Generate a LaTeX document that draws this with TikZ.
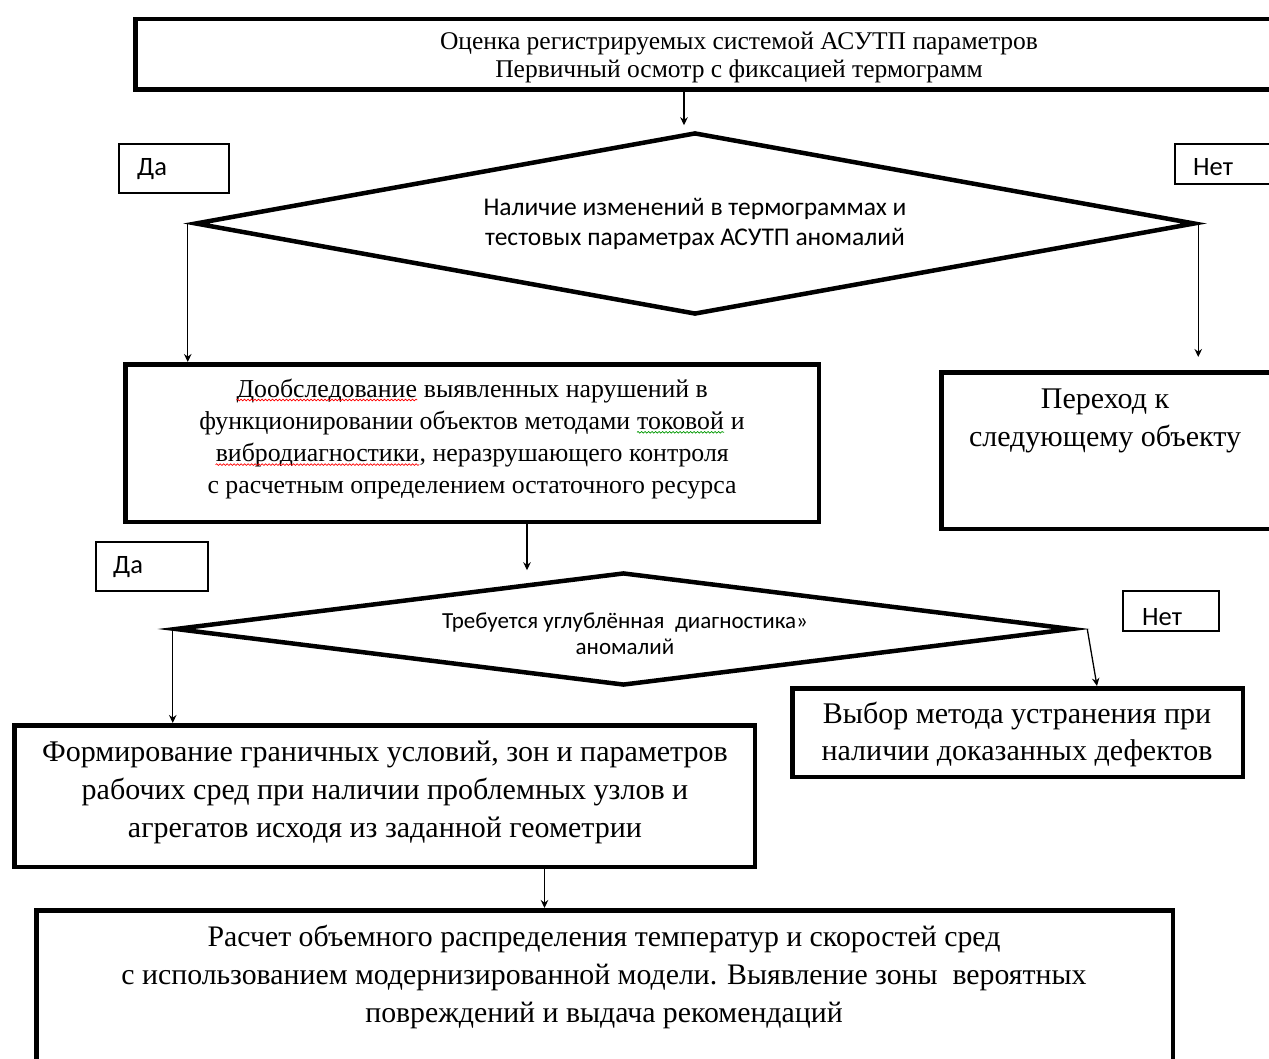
\documentclass[tikz,border=0pt]{standalone}
\usepackage{fontspec}
\setmainfont{Liberation Serif}
\newfontfamily\calfont{Carlito}
\usetikzlibrary{arrows.meta,shapes.geometric,calc,decorations.pathmorphing}
\newcommand\squig[2]{\tikz[baseline=(w.base)]{\node[inner sep=0pt,draw=none] (w) {#2};
  \draw[#1,line width=0.7pt,decorate,decoration={snake,amplitude=0.8pt,segment length=3.5pt}]
    ([yshift=-3pt]w.base west) -- ([yshift=-3pt]w.base east);}}
\begin{document}
\begin{tikzpicture}[x=1pt,y=-1pt,
  blk/.style={draw,line width=4.5pt,inner sep=0pt},
  tag/.style={draw,line width=1.6pt,inner sep=0pt},
  dia/.style={draw,diamond,line width=4.5pt,inner sep=0pt,aspect=5,align=center},
  arr/.style={-{Stealth[length=8pt,width=7.5pt]},line width=1.3pt},
  txt/.style={align=center,inner sep=0pt},
  tagtxt/.style={anchor=west,inner sep=0pt,font=\calfont\fontsize{26.5}{30}\selectfont}]
\useasboundingbox (0,0) rectangle (1269,1059);
\fill[white] (0,0) rectangle (1269,1059);
% boxes
\node[blk,minimum width=1207.5pt,minimum height=70.5pt] (top) at (739,54.5) {};
\node[txt,font=\fontsize{25.5}{28}\selectfont] (toptxt) at (739,57)
  {Оценка регистрируемых системой АСУТП параметров\\Первичный осмотр с фиксацией термограмм};
\node[dia,minimum width=1000pt,minimum height=182pt] (d1) at (695,223.5) {};
\node[txt,font=\calfont\fontsize{25.5}{30}\selectfont] (d1t) at (695,224)
  {Наличие изменений в термограммах и\\тестовых параметрах АСУТП аномалий};
\node[tag,minimum width=110.4pt,minimum height=49.4pt] (da1) at (174,168.5) {};
\node[tagtxt] (da1t) at (137,169) {Да};
\node[tag,minimum width=124.4pt,minimum height=40.4pt] (net1) at (1237,164) {};
\node[tagtxt] (net1t) at (1193,167) {Нет};
\node[blk,minimum width=693.5pt,minimum height=157.5pt] (b2) at (472,443) {};
\node[txt,font=\fontsize{25.8}{32.3}\selectfont] (b2t) at (472,439)
  {\squig{red}{Дообследование} выявленных нарушений в\\функционировании объектов методами \squig{green!60!black}{токовой} и\\\squig{red}{вибродиагностики}, неразрушающего контроля\\с расчетным определением остаточного ресурса};
\node[blk,minimum width=356.5pt,minimum height=156.5pt] (nx) at (1119.5,450.5) {};
\node[txt,font=\fontsize{30}{38}\selectfont] (nxt) at (1105,421)
  {Переход к\\следующему объекту};
\node[tag,minimum width=112.4pt,minimum height=49.4pt] (da2) at (152,566.5) {};
\node[tagtxt] (da2t) at (113,567) {Да};
\node[dia,minimum width=897pt,minimum height=113pt] (d2) at (623.5,629) {};
\node[txt,font=\calfont\fontsize{23}{26}\selectfont] (d2t) at (625,633.5)
  {Требуется углублённая~ диагностика»\\аномалий};
\node[tag,minimum width=96.4pt,minimum height=40.4pt] (net2) at (1171,611) {};
\node[tagtxt] (net2t) at (1142,617) {Нет};
\node[blk,minimum width=740.5pt,minimum height=141.5pt] (form) at (384.5,796) {};
\node[txt,font=\fontsize{30}{38}\selectfont] (formt) at (385,792)
  {Формирование граничных условий, зон и параметров\\рабочих сред при наличии проблемных узлов и\\агрегатов исходя из заданной геометрии};
\node[blk,minimum width=450.5pt,minimum height=88.5pt] (vyb) at (1017.5,732.5) {};
\node[txt,font=\fontsize{30}{37}\selectfont] (vybt) at (1017,734)
  {Выбор метода устранения при\\наличии доказанных дефектов};
\node[blk,minimum width=1136.5pt,minimum height=187.5pt] (bot) at (604.5,1004) {};
\node[txt,font=\fontsize{29.8}{38}\selectfont] (bott) at (604,977)
  {Расчет объемного распределения температур и скоростей сред\\с использованием модернизированной модели. Выявление зоны~ вероятных\\повреждений и выдача рекомендаций};
% connectors
\coordinate (a1) at ($(top.south -| d1.north)+(-11,0)$);
\draw[arr] (a1) -- ($(d1.north)+(-11,-5)$);
\coordinate (a2) at ($(d1.west)+(-5,0)$);
\draw[arr] (a2) -- (a2 |- b2.north);
\coordinate (a3) at ($(d1.east)+(1,0)$);
\draw[arr] (a3) -- ($(a3 |- nx.north)+(0,-13)$);
\coordinate (a4) at ($(b2.south)+(55,0)$);
\draw[arr] (a4) -- (a4 |- d2.north);
\draw[arr] (d2.west) -- (d2.west |- form.north);
\coordinate (a5) at ($(d2.east)+(13,0)$);
\draw[arr] (a5) -- ($(vyb.north west)+(307,0)$);
\coordinate (a6) at ($(form.south)+(160,0)$);
\draw[arr] (a6) -- (a6 |- bot.north);
\end{tikzpicture}
\end{document}
